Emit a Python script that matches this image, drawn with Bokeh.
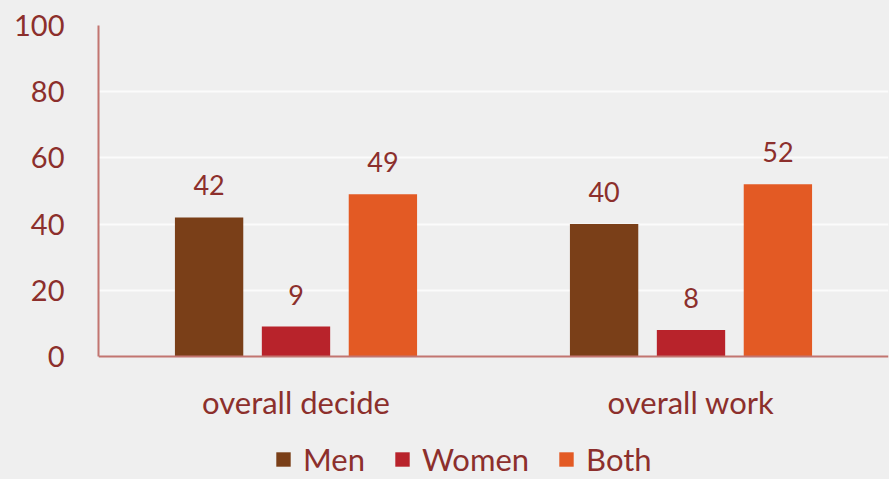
from bokeh.plotting import figure
from bokeh.models import ColumnDataSource, FactorRange, Legend, LegendItem, Range1d, FixedTicker, Span
from bokeh.transform import dodge
from bokeh.embed import file_html
from bokeh.resources import INLINE
from bokeh.core.properties import value

categories = ["overall decide", "overall work"]
series = ["Men", "Women", "Both"]
men = [42, 40]
women = [9, 8]
both = [49, 52]
colors = ["#7a3f18", "#b8232b", "#e35a24"]
yticks = [0, 20, 40, 60, 80, 100]

TXT = "#8c2f2c"
FONT = "Lato"
AXC = "#c27570"
BG = "#efefef"

p = figure(x_range=FactorRange(*categories), y_range=Range1d(-37.2, 100),
           width=889, height=479, output_backend="svg", toolbar_location=None,
           min_border_left=98, min_border_right=1, min_border_top=25, min_border_bottom=0)
p.background_fill_color = BG
p.border_fill_color = BG
p.styles = {"background-color": BG}
p.outline_line_color = None
p.xaxis.visible = False

src = ColumnDataSource(dict(cat=categories, Men=men, Women=women, Both=both,
                            Men_l=[str(v) for v in men], Women_l=[str(v) for v in women],
                            Both_l=[str(v) for v in both], zero=[0, 0]))
offsets = [-0.22, 0.0, 0.22]
renderers = []
for s, c, off in zip(series, colors, offsets):
    r = p.vbar(x=dodge("cat", off, range=p.x_range), top=s, width=0.173, source=src,
               fill_color=c, line_color=None)
    renderers.append(r)
    p.text(x=dodge("cat", off, range=p.x_range), y=s, text=s + "_l", source=src,
           text_align="center", text_baseline="bottom", y_offset=-22,
           text_font=value(FONT), text_font_size="27px", text_color=TXT)

# category labels
p.text(x="cat", y="zero", text="cat", source=src, text_align="center", text_baseline="middle",
       y_offset=46, text_font=value(FONT), text_font_size="31px", text_color=TXT)

p.add_layout(Span(location=0, dimension="width", line_color=AXC, line_width=2))

yax = p.yaxis[0]
yax.ticker = FixedTicker(ticks=yticks)
yax.bounds = (yticks[0], yticks[-1])
p.ygrid.ticker = FixedTicker(ticks=yticks[1:])
p.ygrid.grid_line_color = "#fbfbfb"
p.ygrid.grid_line_width = 2
p.xgrid.grid_line_color = None

yax.axis_line_color = AXC
yax.axis_line_width = 2
yax.major_tick_line_color = None
yax.minor_tick_line_color = None
yax.major_label_text_color = TXT
yax.major_label_text_font = FONT
yax.major_label_text_font_size = "29px"
yax.major_label_standoff = 28

legend = Legend(items=[LegendItem(label=s, renderers=[r]) for s, r in zip(series, renderers)],
                orientation="horizontal", location=(176, 1),
                background_fill_alpha=0, border_line_color=None,
                label_text_font=FONT, label_text_font_size="31px", label_text_color=TXT,
                glyph_width=18, glyph_height=18, spacing=28, label_standoff=11,
                padding=0, margin=0)
p.add_layout(legend, "center")

open("out.html", "w").write(file_html(p, INLINE))
